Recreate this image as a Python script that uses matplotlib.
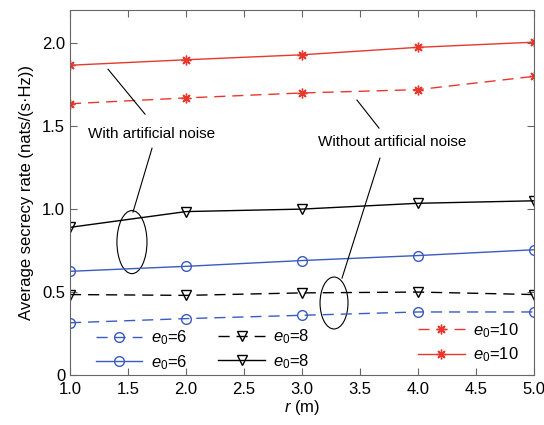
import numpy as np
import matplotlib.pyplot as plt
from matplotlib.patches import Ellipse

plt.rcParams['font.family'] = 'Liberation Sans'
plt.rcParams['mathtext.fontset'] = 'custom'
plt.rcParams['mathtext.rm'] = 'Liberation Sans'
plt.rcParams['mathtext.it'] = 'Liberation Sans:italic'

# data
r = [1.0, 2.0, 3.0, 4.0, 5.0]
an_e10 = [1.867, 1.90, 1.93, 1.975, 2.006]
noan_e10 = [1.635, 1.67, 1.70, 1.72, 1.80]
an_e8 = [0.89, 0.985, 1.0, 1.035, 1.05]
an_e6 = [0.625, 0.655, 0.69, 0.72, 0.755]
noan_e8 = [0.485, 0.48, 0.495, 0.50, 0.485]
noan_e6 = [0.315, 0.34, 0.36, 0.38, 0.38]

blue = '#3a5bbf'
red = '#e8382d'
star = (8, 2, 0)
dash = (8, 5)

fig = plt.figure(figsize=(5.44, 4.25), dpi=100)
ax = fig.add_axes([0.1287, 0.1176, 0.8529, 0.8589])

l1, = ax.plot(r, noan_e6, '--', color=blue, marker='o', mfc='none', ms=7, lw=1, dashes=dash)
l2, = ax.plot(r, an_e6, '-', color=blue, marker='o', mfc='none', ms=7, lw=1)
l3, = ax.plot(r, noan_e8, '--', color='black', marker='v', mfc='none', ms=7, lw=1, dashes=dash)
l4, = ax.plot(r, an_e8, '-', color='black', marker='v', mfc='none', ms=7, lw=1)
l5, = ax.plot(r, noan_e10, '--', color=red, marker=star, ms=7, lw=1, dashes=dash)
l6, = ax.plot(r, an_e10, '-', color=red, marker=star, ms=7, lw=1)

ax.set_xlim(1.0, 5.0)
ax.set_ylim(0, 2.2)
ax.set_xticks(np.arange(1.0, 5.01, 0.5))
ax.set_xticklabels(['%.1f' % v for v in np.arange(1.0, 5.01, 0.5)])
ax.set_yticks([0, 0.5, 1.0, 1.5, 2.0])
ax.set_yticklabels(['0', '0.5', '1.0', '1.5', '2.0'])
ax.tick_params(direction='in', top=True, right=True, labelsize=12, length=5, color='#666666')
ax.tick_params(axis='x', pad=5)
for s in ax.spines.values():
    s.set_color('#666666')
ax.set_xlabel('$r$ (m)', fontsize=12, labelpad=1)
ax.set_ylabel('Average secrecy rate (nats/(s·Hz))', fontsize=12, labelpad=6)

# annotations
ax.text(1.155, 1.452, 'With artificial noise', fontsize=11, va='center')
ax.plot([1.328, 1.647], [1.843, 1.572], color='black', lw=0.8)
ax.plot([1.707, 1.543], [1.367, 0.982], color='black', lw=0.8)
ax.add_patch(Ellipse((1.534, 0.801), 0.259, 0.380, fill=False, lw=0.8, ec='black'))

ax.text(3.138, 1.404, 'Without artificial noise', fontsize=11, va='center')
ax.plot([3.474, 3.664], [1.657, 1.488], color='black', lw=0.8)
ax.plot([3.672, 3.345], [1.307, 0.584], color='black', lw=0.8)
ax.add_patch(Ellipse((3.276, 0.434), 0.241, 0.313, fill=False, lw=0.8, ec='black'))

# three legend columns
kw = dict(frameon=False, fontsize=12, handlelength=2.8, handletextpad=0.5,
          labelspacing=0.35, borderaxespad=0, borderpad=0)
leg1 = ax.legend([l1, l2], ['$e_0$=6', '$e_0$=6'], loc='upper left',
                 bbox_to_anchor=(0.055, 0.127), **kw)
ax.add_artist(leg1)
leg2 = ax.legend([l3, l4], ['$e_0$=8', '$e_0$=8'], loc='upper left',
                 bbox_to_anchor=(0.32, 0.13), **kw)
ax.add_artist(leg2)
leg3 = ax.legend([l5, l6], ['$e_0$=10', '$e_0$=10'], loc='upper left',
                 bbox_to_anchor=(0.75, 0.148), **kw)

fig.savefig('out.png', dpi=100)
